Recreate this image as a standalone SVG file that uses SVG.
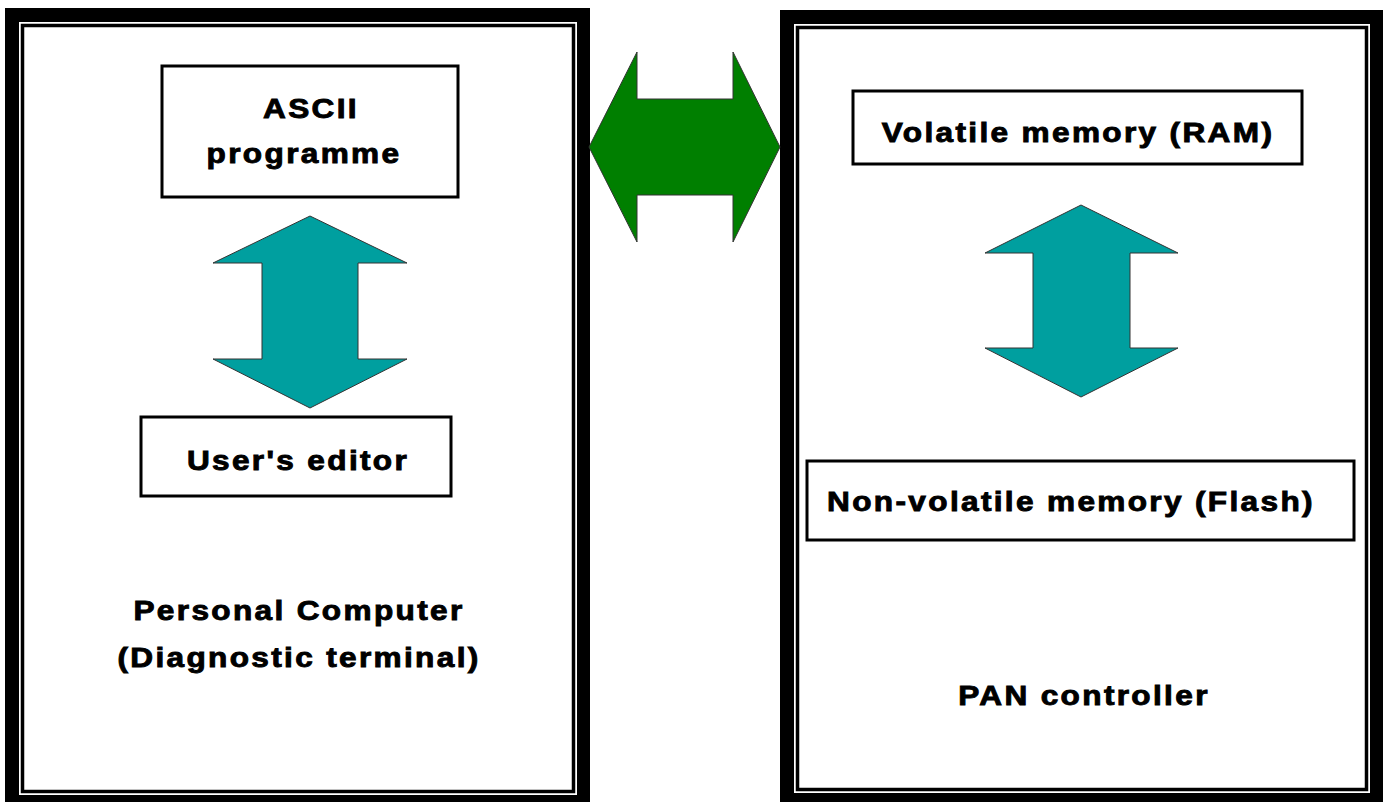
<svg xmlns="http://www.w3.org/2000/svg" width="1386" height="802" viewBox="0 0 1386 802">
<style>
.t{font-family:"Liberation Sans",Arial,sans-serif;font-weight:bold;font-size:27px;letter-spacing:2px;fill:#000;stroke:#000;stroke-width:0.9;text-anchor:middle}
.box{fill:#fff;stroke:#000;stroke-width:3}
.teal{fill:#009f9f;stroke:#333;stroke-width:1}
.green{fill:#007f00;stroke:#333;stroke-width:1}
</style>
<rect width="1386" height="802" fill="#fff"/>
<g id="pc">
<rect x="5" y="8" width="585" height="800" fill="#000"/>
<rect x="19" y="22" width="558" height="773" fill="#fff"/>
<rect x="22.5" y="25.5" width="551" height="766" fill="#fff" stroke="#000" stroke-width="3.5"/>
<text class="t" transform="translate(299,620) scale(1.17,1)">Personal Computer</text>
<text class="t" transform="translate(299,667) scale(1.17,1)">(Diagnostic terminal)</text>
</g>
<g id="pan">
<rect x="780" y="10" width="603" height="800" fill="#000"/>
<rect x="794" y="24" width="576" height="769" fill="#fff"/>
<rect x="797.5" y="27.5" width="569" height="762" fill="#fff" stroke="#000" stroke-width="3.5"/>
<text class="t" transform="translate(1084,705) scale(1.17,1)">PAN controller</text>
</g>
<g id="ascii">
<rect class="box" x="162" y="66" width="296" height="131"/>
<text class="t" transform="translate(311,118) scale(1.17,1)">ASCII</text>
<text class="t" transform="translate(304,163) scale(1.17,1)">programme</text>
</g>
<g id="editor">
<rect class="box" x="141" y="417" width="310" height="79"/>
<text class="t" transform="translate(298,470) scale(1.17,1)">User's editor</text>
</g>
<g id="ram">
<rect class="box" x="853" y="91" width="449" height="73"/>
<text class="t" transform="translate(1078,142) scale(1.17,1)">Volatile memory (RAM)</text>
</g>
<g id="flash">
<rect class="box" x="807" y="461" width="547" height="79"/>
<text class="t" transform="translate(1071,511) scale(1.17,1)">Non-volatile memory (Flash)</text>
</g>
<g id="connectors">
<polygon class="green" points="589,147 637,52 637,99 733,99 733,52 780,147 733,242 733,195 637,195 637,242"/>
<polygon class="teal" points="310,216 407,263 358,263 358,359 407,359 310,408 213,359 262,359 262,263 213,263"/>
<polygon class="teal" points="1081,205 1178,253 1130,253 1130,348 1178,348 1081,397 985,348 1033,348 1033,253 985,253"/>
</g>
</svg>
